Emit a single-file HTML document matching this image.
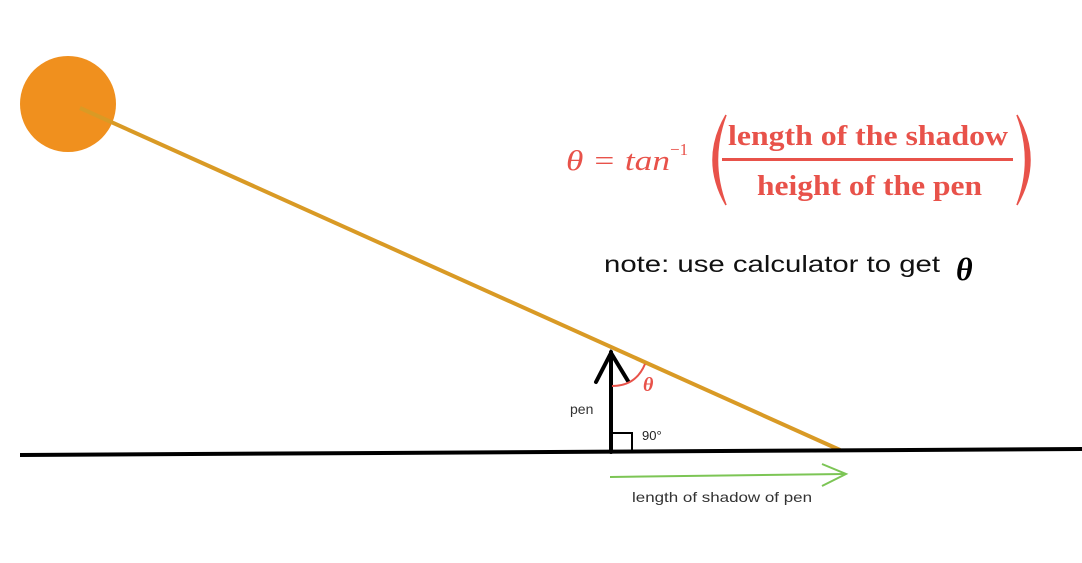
<!DOCTYPE html>
<html><head><meta charset="utf-8"><style>html,body{margin:0;padding:0;background:#fff;width:1082px;height:563px;overflow:hidden}</style></head>
<body>
<svg width="1082" height="563" viewBox="0 0 1082 563" xmlns="http://www.w3.org/2000/svg">
<rect width="1082" height="563" fill="#fff"/>
<circle cx="68" cy="104" r="48" fill="#F0901E"/>
<line x1="80" y1="108" x2="840" y2="450" stroke="#D99A25" stroke-width="4"/>
<line x1="20" y1="455" x2="1082" y2="449" stroke="#000" stroke-width="4"/>
<g stroke="#000" stroke-width="4" fill="none" stroke-linecap="round">
<line x1="611" y1="452" x2="611" y2="352"/>
<polyline points="596,382 611,353 628,381"/>
</g>
<polyline points="612,433 632,433 632,453" fill="none" stroke="#000" stroke-width="2"/>
<text x="642" y="440" font-family="Liberation Sans, sans-serif" font-size="13" fill="#222">90°</text>
<path d="M612,386 Q636,386 645,364" fill="none" stroke="#E8524A" stroke-width="2"/>
<text x="643" y="391" font-family="Liberation Serif, serif" font-style="italic" font-weight="bold" font-size="20" fill="#E8524A">θ</text>
<text x="570" y="414" font-family="Liberation Sans, sans-serif" font-size="14" fill="#333">pen</text>
<g stroke="#7CC555" stroke-width="2" fill="none">
<line x1="610" y1="477" x2="845" y2="474"/>
<polyline points="822,464 846,474 822,486"/>
</g>
<text x="632" y="502" font-family="Liberation Sans, sans-serif" font-size="14" fill="#333" textLength="180" lengthAdjust="spacingAndGlyphs">length of shadow of pen</text>
<g fill="#E8524A">
<text x="566" y="170" font-family="Liberation Serif, serif" font-style="italic" font-size="29" textLength="104" lengthAdjust="spacingAndGlyphs">θ = tan</text>
<text x="670" y="155" font-family="Liberation Serif, serif" font-size="17">−1</text>
<path d="M726,115 Q700,160 726,205 Q709,160 726,115 Z" stroke="#E8524A" stroke-width="1.5"/>
<path d="M1017,115 Q1043,160 1017,205 Q1034,160 1017,115 Z" stroke="#E8524A" stroke-width="1.5"/>
<text x="728" y="145" font-family="Liberation Serif, serif" font-weight="bold" font-size="29" textLength="280" lengthAdjust="spacingAndGlyphs">length of the shadow</text>
<rect x="722" y="158" width="291" height="3"/>
<text x="757" y="195" font-family="Liberation Serif, serif" font-weight="bold" font-size="29" textLength="225" lengthAdjust="spacingAndGlyphs">height of the pen</text>
</g>
<text x="604" y="272" font-family="Liberation Sans, sans-serif" font-size="23" fill="#111" textLength="336" lengthAdjust="spacingAndGlyphs">note: use calculator to get</text>
<text x="956" y="280" font-family="Liberation Serif, serif" font-style="italic" font-weight="bold" font-size="32" fill="#000">θ</text>
</svg>
</body></html>
